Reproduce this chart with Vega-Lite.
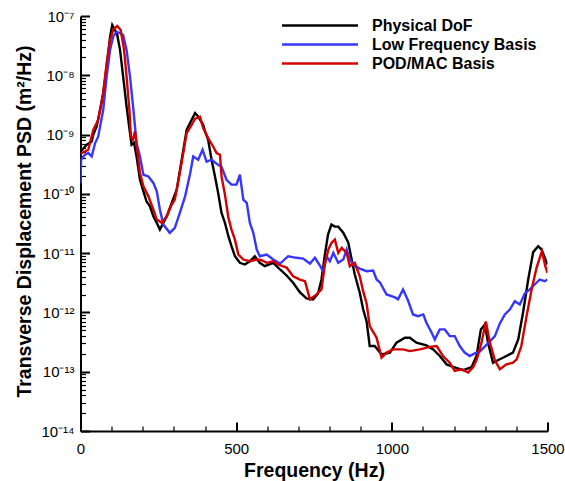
{
"$schema": "https://vega.github.io/schema/vega-lite/v6.json",
"width": 467, "height": 415,
"autosize": {"type": "none"},
"padding": {"left": 80.5, "top": 16, "right": 17, "bottom": 50},
"background": "white",
"config": {"view": {"stroke": null}, "font": "Liberation Sans", "axis": {"labelOverlap": false, "labelFlush": false}},
"data": {"values": [
{"s":"Physical DoF","f":0,"p":5.13e-10},{"s":"Physical DoF","f":20,"p":6.73e-10},{"s":"Physical DoF","f":36,"p":7.65e-10},{"s":"Physical DoF","f":41,"p":9.92e-10},{"s":"Physical DoF","f":52,"p":1.37e-9},{"s":"Physical DoF","f":63,"p":2.62e-9},{"s":"Physical DoF","f":73,"p":5.0e-9},{"s":"Physical DoF","f":84,"p":1.40e-8},{"s":"Physical DoF","f":95,"p":4.48e-8},{"s":"Physical DoF","f":102,"p":7.06e-8},{"s":"Physical DoF","f":111,"p":5.81e-8},{"s":"Physical DoF","f":118,"p":4.79e-8},{"s":"Physical DoF","f":127,"p":2.68e-8},{"s":"Physical DoF","f":137,"p":9.51e-9},{"s":"Physical DoF","f":148,"p":2.97e-9},{"s":"Physical DoF","f":159,"p":1.06e-9},{"s":"Physical DoF","f":164,"p":6.73e-10},{"s":"Physical DoF","f":172,"p":7.28e-10},{"s":"Physical DoF","f":180,"p":4.28e-10},{"s":"Physical DoF","f":191,"p":1.73e-10},{"s":"Physical DoF","f":202,"p":1.10e-10},{"s":"Physical DoF","f":212,"p":7.48e-11},{"s":"Physical DoF","f":223,"p":6.16e-11},{"s":"Physical DoF","f":234,"p":4.18e-11},{"s":"Physical DoF","f":245,"p":3.24e-11},{"s":"Physical DoF","f":255,"p":2.50e-11},{"s":"Physical DoF","f":266,"p":3.24e-11},{"s":"Physical DoF","f":277,"p":4.18e-11},{"s":"Physical DoF","f":293,"p":7.03e-11},{"s":"Physical DoF","f":309,"p":1.18e-10},{"s":"Physical DoF","f":325,"p":3.77e-10},{"s":"Physical DoF","f":341,"p":1.20e-9},{"s":"Physical DoF","f":357,"p":1.78e-9},{"s":"Physical DoF","f":368,"p":2.30e-9},{"s":"Physical DoF","f":378,"p":2.02e-9},{"s":"Physical DoF","f":384,"p":1.78e-9},{"s":"Physical DoF","f":394,"p":1.46e-9},{"s":"Physical DoF","f":400,"p":1.13e-9},{"s":"Physical DoF","f":410,"p":8.17e-10},{"s":"Physical DoF","f":421,"p":3.77e-10},{"s":"Physical DoF","f":432,"p":1.97e-10},{"s":"Physical DoF","f":442,"p":1.04e-10},{"s":"Physical DoF","f":453,"p":4.77e-11},{"s":"Physical DoF","f":464,"p":3.24e-11},{"s":"Physical DoF","f":475,"p":1.93e-11},{"s":"Physical DoF","f":485,"p":1.31e-11},{"s":"Physical DoF","f":496,"p":8.87e-12},{"s":"Physical DoF","f":512,"p":6.87e-12},{"s":"Physical DoF","f":528,"p":6.43e-12},{"s":"Physical DoF","f":544,"p":7.31e-12},{"s":"Physical DoF","f":560,"p":8.87e-12},{"s":"Physical DoF","f":576,"p":6.87e-12},{"s":"Physical DoF","f":592,"p":6.02e-12},{"s":"Physical DoF","f":619,"p":6.87e-12},{"s":"Physical DoF","f":641,"p":5.30e-12},{"s":"Physical DoF","f":662,"p":4.20e-12},{"s":"Physical DoF","f":683,"p":3.16e-12},{"s":"Physical DoF","f":705,"p":2.17e-12},{"s":"Physical DoF","f":726,"p":1.72e-12},{"s":"Physical DoF","f":747,"p":1.66e-12},{"s":"Physical DoF","f":763,"p":2.09e-12},{"s":"Physical DoF","f":774,"p":3.59e-12},{"s":"Physical DoF","f":785,"p":9.47e-12},{"s":"Physical DoF","f":795,"p":2.06e-11},{"s":"Physical DoF","f":806,"p":3.03e-11},{"s":"Physical DoF","f":817,"p":2.80e-11},{"s":"Physical DoF","f":828,"p":2.80e-11},{"s":"Physical DoF","f":844,"p":2.22e-11},{"s":"Physical DoF","f":860,"p":1.51e-11},{"s":"Physical DoF","f":871,"p":7.80e-12},{"s":"Physical DoF","f":881,"p":4.36e-12},{"s":"Physical DoF","f":897,"p":2.15e-12},{"s":"Physical DoF","f":908,"p":1.12e-12},{"s":"Physical DoF","f":919,"p":7.06e-13},{"s":"Physical DoF","f":929,"p":2.71e-13},{"s":"Physical DoF","f":945,"p":2.71e-13},{"s":"Physical DoF","f":967,"p":1.96e-13},{"s":"Physical DoF","f":994,"p":2.10e-13},{"s":"Physical DoF","f":1015,"p":3.09e-13},{"s":"Physical DoF","f":1042,"p":3.75e-13},{"s":"Physical DoF","f":1058,"p":3.75e-13},{"s":"Physical DoF","f":1079,"p":3.09e-13},{"s":"Physical DoF","f":1111,"p":2.78e-13},{"s":"Physical DoF","f":1133,"p":2.38e-13},{"s":"Physical DoF","f":1154,"p":1.84e-13},{"s":"Physical DoF","f":1176,"p":1.33e-13},{"s":"Physical DoF","f":1197,"p":1.21e-13},{"s":"Physical DoF","f":1229,"p":1.06e-13},{"s":"Physical DoF","f":1256,"p":1.19e-13},{"s":"Physical DoF","f":1272,"p":1.84e-13},{"s":"Physical DoF","f":1286,"p":5.17e-13},{"s":"Physical DoF","f":1299,"p":6.28e-13},{"s":"Physical DoF","f":1309,"p":3.09e-13},{"s":"Physical DoF","f":1325,"p":1.42e-13},{"s":"Physical DoF","f":1347,"p":1.62e-13},{"s":"Physical DoF","f":1368,"p":1.84e-13},{"s":"Physical DoF","f":1389,"p":2.10e-13},{"s":"Physical DoF","f":1406,"p":3.51e-13},{"s":"Physical DoF","f":1422,"p":1.04e-12},{"s":"Physical DoF","f":1438,"p":3.59e-12},{"s":"Physical DoF","f":1454,"p":1.04e-11},{"s":"Physical DoF","f":1470,"p":1.31e-11},{"s":"Physical DoF","f":1481,"p":1.15e-11},{"s":"Physical DoF","f":1491,"p":8.43e-12},{"s":"Physical DoF","f":1500,"p":6.43e-12},
{"s":"Low Frequency Basis","f":0,"p":1.5e-10},{"s":"Low Frequency Basis","f":2,"p":3.77e-10},{"s":"Low Frequency Basis","f":14,"p":4.57e-10},{"s":"Low Frequency Basis","f":25,"p":4.88e-10},{"s":"Low Frequency Basis","f":36,"p":4.28e-10},{"s":"Low Frequency Basis","f":47,"p":7.19e-10},{"s":"Low Frequency Basis","f":57,"p":9.29e-10},{"s":"Low Frequency Basis","f":73,"p":2.62e-9},{"s":"Low Frequency Basis","f":84,"p":9.51e-9},{"s":"Low Frequency Basis","f":95,"p":2.68e-8},{"s":"Low Frequency Basis","f":105,"p":4.48e-8},{"s":"Low Frequency Basis","f":116,"p":5.44e-8},{"s":"Low Frequency Basis","f":127,"p":5.11e-8},{"s":"Low Frequency Basis","f":137,"p":4.79e-8},{"s":"Low Frequency Basis","f":148,"p":2.68e-8},{"s":"Low Frequency Basis","f":159,"p":9.51e-9},{"s":"Low Frequency Basis","f":170,"p":2.62e-9},{"s":"Low Frequency Basis","f":180,"p":7.19e-10},{"s":"Low Frequency Basis","f":191,"p":4.28e-10},{"s":"Low Frequency Basis","f":202,"p":2.10e-10},{"s":"Low Frequency Basis","f":218,"p":1.97e-10},{"s":"Low Frequency Basis","f":234,"p":1.53e-10},{"s":"Low Frequency Basis","f":245,"p":1.10e-10},{"s":"Low Frequency Basis","f":255,"p":5.42e-11},{"s":"Low Frequency Basis","f":266,"p":3.03e-11},{"s":"Low Frequency Basis","f":287,"p":2.20e-11},{"s":"Low Frequency Basis","f":303,"p":2.67e-11},{"s":"Low Frequency Basis","f":319,"p":4.77e-11},{"s":"Low Frequency Basis","f":336,"p":9.08e-11},{"s":"Low Frequency Basis","f":352,"p":2.19e-10},{"s":"Low Frequency Basis","f":362,"p":4.28e-10},{"s":"Low Frequency Basis","f":378,"p":3.77e-10},{"s":"Low Frequency Basis","f":392,"p":5.55e-10},{"s":"Low Frequency Basis","f":405,"p":3.48e-10},{"s":"Low Frequency Basis","f":421,"p":3.77e-10},{"s":"Low Frequency Basis","f":437,"p":3.22e-10},{"s":"Low Frequency Basis","f":453,"p":2.87e-10},{"s":"Low Frequency Basis","f":469,"p":1.73e-10},{"s":"Low Frequency Basis","f":485,"p":1.43e-10},{"s":"Low Frequency Basis","f":501,"p":1.43e-10},{"s":"Low Frequency Basis","f":512,"p":2.10e-10},{"s":"Low Frequency Basis","f":523,"p":7.99e-11},{"s":"Low Frequency Basis","f":534,"p":7.03e-11},{"s":"Low Frequency Basis","f":544,"p":3.24e-11},{"s":"Low Frequency Basis","f":555,"p":2.20e-11},{"s":"Low Frequency Basis","f":566,"p":1.15e-11},{"s":"Low Frequency Basis","f":576,"p":8.87e-12},{"s":"Low Frequency Basis","f":598,"p":9.47e-12},{"s":"Low Frequency Basis","f":619,"p":7.80e-12},{"s":"Low Frequency Basis","f":641,"p":6.68e-12},{"s":"Low Frequency Basis","f":667,"p":8.87e-12},{"s":"Low Frequency Basis","f":694,"p":8.34e-12},{"s":"Low Frequency Basis","f":715,"p":8.11e-12},{"s":"Low Frequency Basis","f":737,"p":6.68e-12},{"s":"Low Frequency Basis","f":753,"p":8.34e-12},{"s":"Low Frequency Basis","f":769,"p":6.18e-12},{"s":"Low Frequency Basis","f":779,"p":4.90e-12},{"s":"Low Frequency Basis","f":790,"p":8.87e-12},{"s":"Low Frequency Basis","f":801,"p":7.31e-12},{"s":"Low Frequency Basis","f":812,"p":1.01e-11},{"s":"Low Frequency Basis","f":828,"p":6.87e-12},{"s":"Low Frequency Basis","f":844,"p":7.80e-12},{"s":"Low Frequency Basis","f":855,"p":1.15e-11},{"s":"Low Frequency Basis","f":865,"p":7.80e-12},{"s":"Low Frequency Basis","f":881,"p":6.02e-12},{"s":"Low Frequency Basis","f":897,"p":5.50e-12},{"s":"Low Frequency Basis","f":919,"p":4.96e-12},{"s":"Low Frequency Basis","f":940,"p":5.09e-12},{"s":"Low Frequency Basis","f":951,"p":3.59e-12},{"s":"Low Frequency Basis","f":962,"p":3.20e-12},{"s":"Low Frequency Basis","f":983,"p":2.01e-12},{"s":"Low Frequency Basis","f":1010,"p":1.79e-12},{"s":"Low Frequency Basis","f":1020,"p":1.66e-12},{"s":"Low Frequency Basis","f":1036,"p":2.44e-12},{"s":"Low Frequency Basis","f":1052,"p":1.59e-12},{"s":"Low Frequency Basis","f":1068,"p":9.25e-13},{"s":"Low Frequency Basis","f":1084,"p":8.66e-13},{"s":"Low Frequency Basis","f":1101,"p":9.25e-13},{"s":"Low Frequency Basis","f":1111,"p":6.71e-13},{"s":"Low Frequency Basis","f":1128,"p":4.55e-13},{"s":"Low Frequency Basis","f":1138,"p":3.51e-13},{"s":"Low Frequency Basis","f":1154,"p":5.17e-13},{"s":"Low Frequency Basis","f":1170,"p":5.17e-13},{"s":"Low Frequency Basis","f":1186,"p":3.99e-13},{"s":"Low Frequency Basis","f":1202,"p":3.99e-13},{"s":"Low Frequency Basis","f":1218,"p":2.71e-13},{"s":"Low Frequency Basis","f":1234,"p":2.10e-13},{"s":"Low Frequency Basis","f":1250,"p":1.84e-13},{"s":"Low Frequency Basis","f":1266,"p":2.04e-13},{"s":"Low Frequency Basis","f":1283,"p":2.20e-13},{"s":"Low Frequency Basis","f":1299,"p":2.68e-13},{"s":"Low Frequency Basis","f":1315,"p":3.25e-13},{"s":"Low Frequency Basis","f":1331,"p":3.99e-13},{"s":"Low Frequency Basis","f":1347,"p":6.53e-13},{"s":"Low Frequency Basis","f":1363,"p":9.25e-13},{"s":"Low Frequency Basis","f":1379,"p":1.12e-12},{"s":"Low Frequency Basis","f":1395,"p":1.55e-12},{"s":"Low Frequency Basis","f":1411,"p":1.36e-12},{"s":"Low Frequency Basis","f":1427,"p":2.09e-12},{"s":"Low Frequency Basis","f":1443,"p":2.44e-12},{"s":"Low Frequency Basis","f":1459,"p":2.96e-12},{"s":"Low Frequency Basis","f":1475,"p":3.59e-12},{"s":"Low Frequency Basis","f":1491,"p":3.36e-12},{"s":"Low Frequency Basis","f":1500,"p":3.59e-12},
{"s":"POD/MAC Basis","f":0,"p":4.75e-10},{"s":"POD/MAC Basis","f":25,"p":5.55e-10},{"s":"POD/MAC Basis","f":41,"p":1.20e-9},{"s":"POD/MAC Basis","f":57,"p":1.78e-9},{"s":"POD/MAC Basis","f":73,"p":5.0e-9},{"s":"POD/MAC Basis","f":84,"p":1.60e-8},{"s":"POD/MAC Basis","f":95,"p":3.94e-8},{"s":"POD/MAC Basis","f":105,"p":5.81e-8},{"s":"POD/MAC Basis","f":118,"p":6.79e-8},{"s":"POD/MAC Basis","f":129,"p":5.81e-8},{"s":"POD/MAC Basis","f":140,"p":2.68e-8},{"s":"POD/MAC Basis","f":148,"p":9.51e-9},{"s":"POD/MAC Basis","f":157,"p":2.62e-9},{"s":"POD/MAC Basis","f":162,"p":9.29e-10},{"s":"POD/MAC Basis","f":168,"p":8.17e-10},{"s":"POD/MAC Basis","f":175,"p":1.13e-9},{"s":"POD/MAC Basis","f":182,"p":5.55e-10},{"s":"POD/MAC Basis","f":191,"p":2.25e-10},{"s":"POD/MAC Basis","f":202,"p":1.34e-10},{"s":"POD/MAC Basis","f":218,"p":9.08e-11},{"s":"POD/MAC Basis","f":234,"p":5.42e-11},{"s":"POD/MAC Basis","f":245,"p":3.68e-11},{"s":"POD/MAC Basis","f":261,"p":3.24e-11},{"s":"POD/MAC Basis","f":277,"p":4.18e-11},{"s":"POD/MAC Basis","f":293,"p":6.58e-11},{"s":"POD/MAC Basis","f":303,"p":7.99e-11},{"s":"POD/MAC Basis","f":319,"p":2.25e-10},{"s":"POD/MAC Basis","f":341,"p":1.06e-9},{"s":"POD/MAC Basis","f":357,"p":1.46e-9},{"s":"POD/MAC Basis","f":368,"p":1.85e-9},{"s":"POD/MAC Basis","f":384,"p":1.99e-9},{"s":"POD/MAC Basis","f":394,"p":1.29e-9},{"s":"POD/MAC Basis","f":410,"p":8.73e-10},{"s":"POD/MAC Basis","f":426,"p":6.30e-10},{"s":"POD/MAC Basis","f":437,"p":4.88e-10},{"s":"POD/MAC Basis","f":448,"p":4.57e-10},{"s":"POD/MAC Basis","f":453,"p":1.97e-10},{"s":"POD/MAC Basis","f":464,"p":9.69e-11},{"s":"POD/MAC Basis","f":475,"p":3.97e-11},{"s":"POD/MAC Basis","f":485,"p":2.50e-11},{"s":"POD/MAC Basis","f":496,"p":1.69e-11},{"s":"POD/MAC Basis","f":507,"p":9.47e-12},{"s":"POD/MAC Basis","f":523,"p":7.80e-12},{"s":"POD/MAC Basis","f":544,"p":7.31e-12},{"s":"POD/MAC Basis","f":566,"p":7.80e-12},{"s":"POD/MAC Basis","f":582,"p":7.6e-12},{"s":"POD/MAC Basis","f":598,"p":6.87e-12},{"s":"POD/MAC Basis","f":619,"p":7.31e-12},{"s":"POD/MAC Basis","f":635,"p":6.43e-12},{"s":"POD/MAC Basis","f":662,"p":5.72e-12},{"s":"POD/MAC Basis","f":683,"p":4.08e-12},{"s":"POD/MAC Basis","f":705,"p":3.59e-12},{"s":"POD/MAC Basis","f":721,"p":3.36e-12},{"s":"POD/MAC Basis","f":737,"p":1.66e-12},{"s":"POD/MAC Basis","f":758,"p":2.01e-12},{"s":"POD/MAC Basis","f":774,"p":2.44e-12},{"s":"POD/MAC Basis","f":785,"p":6.43e-12},{"s":"POD/MAC Basis","f":796,"p":1.15e-11},{"s":"POD/MAC Basis","f":806,"p":1.49e-11},{"s":"POD/MAC Basis","f":817,"p":1.69e-11},{"s":"POD/MAC Basis","f":828,"p":1.01e-11},{"s":"POD/MAC Basis","f":839,"p":1.23e-11},{"s":"POD/MAC Basis","f":855,"p":1.01e-11},{"s":"POD/MAC Basis","f":865,"p":6.02e-12},{"s":"POD/MAC Basis","f":881,"p":6.87e-12},{"s":"POD/MAC Basis","f":897,"p":4.08e-12},{"s":"POD/MAC Basis","f":908,"p":2.26e-12},{"s":"POD/MAC Basis","f":919,"p":1.42e-12},{"s":"POD/MAC Basis","f":929,"p":5.88e-13},{"s":"POD/MAC Basis","f":951,"p":3.75e-13},{"s":"POD/MAC Basis","f":967,"p":1.73e-13},{"s":"POD/MAC Basis","f":983,"p":2.10e-13},{"s":"POD/MAC Basis","f":1004,"p":2.38e-13},{"s":"POD/MAC Basis","f":1036,"p":2.38e-13},{"s":"POD/MAC Basis","f":1058,"p":2.23e-13},{"s":"POD/MAC Basis","f":1090,"p":2.38e-13},{"s":"POD/MAC Basis","f":1122,"p":2.63e-13},{"s":"POD/MAC Basis","f":1144,"p":2.71e-13},{"s":"POD/MAC Basis","f":1165,"p":1.82e-13},{"s":"POD/MAC Basis","f":1186,"p":1.42e-13},{"s":"POD/MAC Basis","f":1202,"p":1.03e-13},{"s":"POD/MAC Basis","f":1224,"p":1.10e-13},{"s":"POD/MAC Basis","f":1245,"p":9.66e-14},{"s":"POD/MAC Basis","f":1261,"p":1.19e-13},{"s":"POD/MAC Basis","f":1273,"p":1.62e-13},{"s":"POD/MAC Basis","f":1288,"p":3.09e-13},{"s":"POD/MAC Basis","f":1302,"p":7.06e-13},{"s":"POD/MAC Basis","f":1315,"p":3.09e-13},{"s":"POD/MAC Basis","f":1331,"p":1.56e-13},{"s":"POD/MAC Basis","f":1347,"p":1.10e-13},{"s":"POD/MAC Basis","f":1368,"p":1.33e-13},{"s":"POD/MAC Basis","f":1389,"p":1.42e-13},{"s":"POD/MAC Basis","f":1401,"p":1.62e-13},{"s":"POD/MAC Basis","f":1416,"p":2.71e-13},{"s":"POD/MAC Basis","f":1432,"p":8.24e-13},{"s":"POD/MAC Basis","f":1449,"p":2.44e-12},{"s":"POD/MAC Basis","f":1465,"p":5.72e-12},{"s":"POD/MAC Basis","f":1482,"p":1.08e-11},{"s":"POD/MAC Basis","f":1493,"p":6.02e-12},{"s":"POD/MAC Basis","f":1500,"p":4.66e-12}
]},
"mark": {"type": "line", "strokeWidth": 2.4, "clip": true},
"encoding": {
  "x": {"field": "f", "type": "quantitative", "scale": {"domain": [0, 1500], "nice": false},
   "axis": {"values": [0,100,200,300,400,500,600,700,800,900,1000,1100,1200,1300,1400,1500], "format": "d",
    "labelExpr": "datum.value % 500 == 0 ? datum.label : ''", "labelFontSize": 15, "labelColor": "black", "labelOverlap": false, "labelFlush": false,
    "labelPadding": 19,
    "tickSize": {"condition": {"test": "datum.value % 500 == 0", "value": -9}, "value": -5},
    "tickWidth": {"condition": {"test": "datum.value % 500 == 0", "value": 2}, "value": 1.2},
    "tickColor": "black", "domainColor": "black", "domainWidth": 2, "grid": false,
    "title": "Frequency (Hz)", "titleFontSize": 19.5, "titleFontWeight": "bold", "titleColor": "black", "titleBaseline": "alphabetic", "titleY": 45}},
  "y": {"field": "p", "type": "quantitative", "scale": {"type": "log", "domain": [1e-14, 1e-7], "nice": false},
   "axis": {"values": [1e-14,2e-14,3e-14,4e-14,5e-14,6e-14,7e-14,8e-14,9e-14,1e-13,2e-13,3e-13,4e-13,5e-13,6e-13,7e-13,8e-13,9e-13,1e-12,2e-12,3e-12,4e-12,5e-12,6e-12,7e-12,8e-12,9e-12,1e-11,2e-11,3e-11,4e-11,5e-11,6e-11,7e-11,8e-11,9e-11,1e-10,2e-10,3e-10,4e-10,5e-10,6e-10,7e-10,8e-10,9e-10,1e-9,2e-9,3e-9,4e-9,5e-9,6e-9,7e-9,8e-9,9e-9,1e-8,2e-8,3e-8,4e-8,5e-8,6e-8,7e-8,8e-8,9e-8,1e-7],
    "labelExpr": "abs(log(datum.value)/LN10 - round(log(datum.value)/LN10)) < 0.001 ? ['10⁻¹⁴','10⁻¹³','10⁻¹²','10⁻¹¹','10⁻¹⁰','10⁻⁹','10⁻⁸','10⁻⁷'][round(log(datum.value)/LN10)+14] : ''",
    "labelFontSize": 15, "labelColor": "black", "labelOverlap": false, "labelFlush": false, "labelPadding": 15.5,
    "tickSize": {"condition": {"test": "abs(log(datum.value)/LN10 - round(log(datum.value)/LN10)) < 0.001", "value": -9}, "value": -5},
    "tickWidth": {"condition": {"test": "abs(log(datum.value)/LN10 - round(log(datum.value)/LN10)) < 0.001", "value": 2}, "value": 1.2},
    "tickColor": "black", "domainColor": "black", "domainWidth": 2, "grid": false,
    "title": "Transverse Displacement PSD (m²/Hz)", "titleFontSize": 19.5, "titleFontWeight": "bold", "titleColor": "black",
    "titleAngle": -90, "titleBaseline": "alphabetic", "titleAlign": "center", "titleX": -50, "titleY": 205}},
  "color": {"field": "s", "type": "nominal",
   "scale": {"domain": ["Physical DoF", "Low Frequency Basis", "POD/MAC Basis"], "range": ["#000000", "#3636ff", "#d40000"]},
   "legend": {"orient": "none", "legendX": 231.5, "legendY": 1.5, "title": null, "symbolType": "M-7.6,0H7.6", "symbolSize": 100,
    "symbolStrokeWidth": 2.5, "labelFontSize": 16, "labelFontWeight": "bold", "labelColor": "black", "labelOffset": 44, "labelLimit": 400, "rowPadding": 3, "padding": 0}}
}
}
